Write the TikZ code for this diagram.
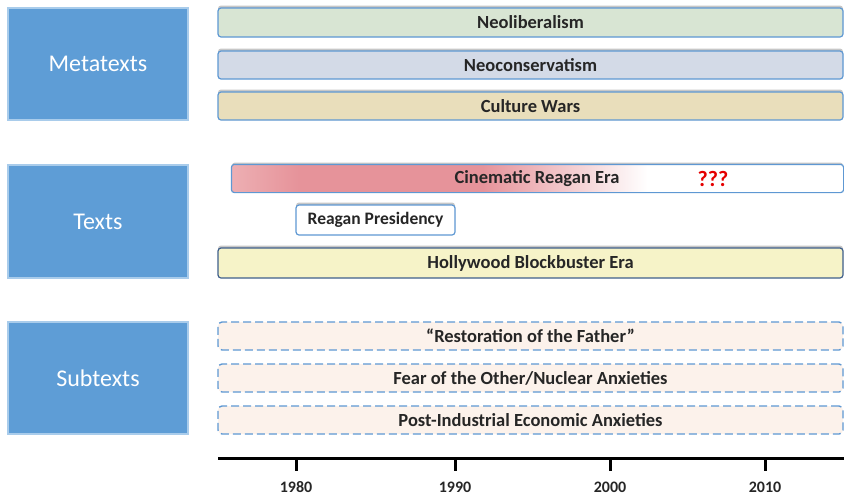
\documentclass[tikz,border=0pt]{standalone}
\usepackage{fontspec}
\setmainfont{Carlito}
\usetikzlibrary{shadows}
\definecolor{sideblue}{HTML}{5E9DD6}
\definecolor{sideedge}{HTML}{A9CCEB}
\definecolor{baredge}{HTML}{5E98D3}
\definecolor{neolib}{HTML}{D8E5D3}
\definecolor{neocon}{HTML}{D3DAE7}
\definecolor{culture}{HTML}{E9DEBB}
\definecolor{holly}{HTML}{F6F3C8}
\definecolor{hollyedge}{HTML}{3F5F8C}
\definecolor{subfill}{HTML}{FCF2EB}
\definecolor{cinered}{HTML}{E6939A}
\definecolor{cinepink}{HTML}{EDAFB3}
\definecolor{txt}{HTML}{262626}
\pgfdeclarehorizontalshading{cineshade}{100bp}{color(0bp)=(cinepink); color(25bp)=(cinepink); color(30.5bp)=(cinered); color(45.5bp)=(cinered); color(59bp)=(white); color(100bp)=(white)}
\tikzset{
  side/.style={draw=sideedge, line width=1.2pt, fill=sideblue, text=white, font=\fontsize{24}{26}\selectfont, inner sep=0pt},
  bar/.style={draw=baredge, line width=1.2pt, rounded corners=3pt, text=txt, font=\bfseries\fontsize{18.5}{20}\selectfont, inner sep=0pt,
     drop shadow={shadow xshift=0pt, shadow yshift=2.5pt, opacity=0.4, fill=black!55}},
  subbar/.style={draw=baredge, line width=1.4pt, dash pattern=on 8pt off 4pt, rounded corners=4pt, fill=subfill, text=txt, font=\bfseries\fontsize{18.5}{20}\selectfont, inner sep=0pt},
  yearlbl/.style={font=\bfseries\fontsize{16}{18}\selectfont, text=txt},
}
\begin{document}
\begin{tikzpicture}[x=1pt,y=-1pt]
\useasboundingbox (0,0) rectangle (844,496);
% left category boxes
\node[side, minimum width=180pt, minimum height=112pt] (meta) at (98,64) {Metatexts};
\node[side, minimum width=180pt, minimum height=113pt] (texts) at (98,221.5) {Texts};
\node[side, minimum width=180pt, minimum height=112pt] (sub) at (98,378) {Subtexts};
% metatexts bars
\node[bar, fill=neolib, minimum width=625pt, minimum height=29pt] (neolib) at (530.5,22.5) {Neoliberalism};
\node[bar, fill=neocon, minimum width=625pt, minimum height=28pt] (neocon) at (530.5,65) {Neoconservatism};
\node[bar, fill=culture, minimum width=625pt, minimum height=28pt] (culture) at (530.5,106) {Culture Wars};
% texts
\node[bar, fill=white, minimum width=611pt, minimum height=27pt] (cine) at (537.5,178.5) {};
\shade[shading=cineshade, rounded corners=3pt] (cine.south west) rectangle (cine.north east);
\draw[draw=baredge, line width=1.2pt, rounded corners=3pt] (cine.south west) rectangle (cine.north east);
\node[text=txt, font=\bfseries\fontsize{18.5}{20}\selectfont] (cinelbl) at (537,179) {Cinematic Reagan Era};
\node[text=red!90!black, font=\bfseries\fontsize{22}{24}\selectfont] (qqq) at (713,179) {???};
\node[bar, fill=white, minimum width=159pt, minimum height=30pt, font=\bfseries\fontsize{17.5}{19}\selectfont] (reagan) at (375.5,220) {Reagan Presidency};
\node[bar, draw=hollyedge, fill=holly, minimum width=625pt, minimum height=30pt] (holly) at (530.5,263) {Hollywood Blockbuster Era};
% subtexts
\node[subbar, minimum width=625pt, minimum height=28pt] (rest) at (530.5,336) {“Restoration of the Father”};
\node[subbar, minimum width=625pt, minimum height=28pt] (fear) at (530.5,378) {Fear of the Other/Nuclear Anxieties};
\node[subbar, minimum width=625pt, minimum height=28pt] (post) at (530.5,420) {Post-Industrial Economic Anxieties};
% axis
\coordinate (ax0) at (218,458.5);
\coordinate (ax1) at (844,458.5);
\draw[line width=3pt, black] (ax0) -- (ax1);
\foreach \x/\yr in {296/1980,455/1990,610/2000,765/2010}{
  \coordinate (t\yr) at (\x,458.5);
  \draw[line width=3pt] (t\yr) -- ++(0,12);
  \node[yearlbl] (l\yr) at (\x,487) {\yr};
}
\end{tikzpicture}
\end{document}
